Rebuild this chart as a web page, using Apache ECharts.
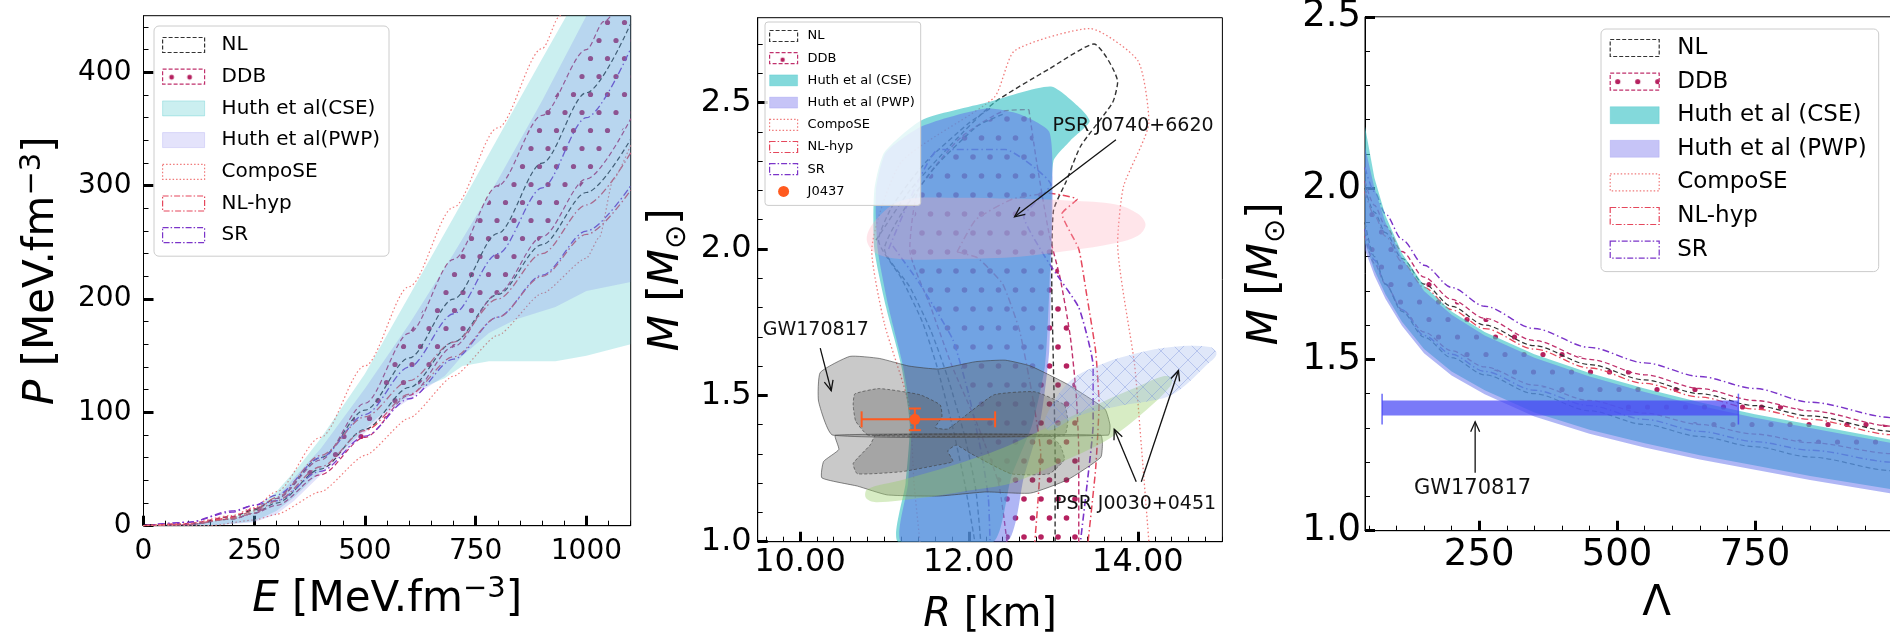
<!DOCTYPE html>
<html>
<head>
<meta charset="utf-8">
<title>EOS constraints</title>
<script src="https://cdn.jsdelivr.net/npm/echarts@6.0.0/dist/echarts.min.js"></script>
<style>
  html, body { margin: 0; padding: 0; background: #fff; }
  #chart { width: 1890px; height: 635px; }
</style>
</head>
<body>
<div id="chart"></div>
<script>
var FONT = 'DejaVu Sans';

// ---- tick labels ----
var eTicks = [0, 250, 500, 750, 1000];
var pTicks = [0, 100, 200, 300, 400];
var rTicks = [10, 12, 14];
var mTicks = [1.0, 1.5, 2.0, 2.5];
var lambdaTicks = [250, 500, 750];

var legend1Names = ['NL', 'DDB', 'Huth et al(CSE)', 'Huth et al(PWP)', 'CompoSE', 'NL-hyp', 'SR'];
var legend2Names = ['NL', 'DDB', 'Huth et al (CSE)', 'Huth et al (PWP)', 'CompoSE', 'NL-hyp', 'SR', 'J0437'];
var legend3Names = ['NL', 'DDB', 'Huth et al (CSE)', 'Huth et al (PWP)', 'CompoSE', 'NL-hyp', 'SR'];

// ---- panel 1: P(E) ----
var p1CseUpper = [[0,0],[100,1],[200,7],[250,14],[300,30],[350,52],[400,77],[500,134],[600,203],[700,272],[800,342],[900,412],[955,450],[1000,482],[1100,555]];
var p1CseLower = [[0,0],[150,0],[250,4],[300,13],[340,25],[435,61],[530,96],[625,121],[680,130],[720,141],[780,145],[930,145],[1000,150],[1100,160]];
var p1PwpUpper = [[0,0],[100,1],[200,6],[250,12],[300,25],[400,68],[500,121],[600,178],[700,240],[800,305],[900,375],[1000,450],[1100,525]];
var p1PwpLower = [[0,0],[150,0],[250,3],[300,10],[340,22],[435,58],[530,93],[625,118],[680,132],[720,150],[780,170],[840,182],[930,193],[1000,207],[1100,215]];
var p1DdbUpper = [[0,0],[100,2],[200,8],[250,15],[300,24],[400,58],[500,108],[600,170],[700,235],[800,300],[900,362],[1000,420],[1040,445],[1100,482]];
var p1DdbLower = [[0,0],[100,1],[200,6],[250,11],[300,18],[400,45],[500,78],[600,115],[700,158],[800,205],[900,255],[1000,306],[1100,359]];
var p1Nl1 = [[0,0],[100,1],[200,8],[250,14],[300,24],[400,60],[500,102],[600,148],[700,200],[800,258],[900,320],[1000,382],[1100,443]];
var p1Nl2 = [[0,0],[100,1],[200,6],[250,11],[300,20],[400,50],[500,85],[600,122],[700,162],[800,204],[900,248],[1000,294],[1100,341]];
var p1Sr1 = [[0,0],[100,3],[200,12],[250,18],[300,27],[400,60],[500,98],[600,140],[700,187],[800,240],[900,298],[1000,360],[1100,421]];
var p1Sr2 = [[0,0],[100,3],[200,13],[250,18],[300,22],[400,48],[500,79],[600,112],[700,147],[800,184],[900,221],[1000,260],[1100,300]];
var p1NlHyp1 = [[0,0],[100,1],[200,7],[250,13],[300,25],[400,62],[500,96],[600,128],[700,162],[800,200],[900,240],[1000,283],[1100,329]];
var p1NlHyp2 = [[0,0],[100,1],[200,6],[250,11],[300,22],[400,52],[500,84],[600,116],[700,149],[800,184],[900,220],[1000,257],[1100,296]];
var p1Compose1 = [[0,0],[100,2],[200,9],[250,16],[300,30],[400,78],[500,141],[600,211],[700,281],[800,351],[900,421],[941,450],[1000,492]];
var p1Compose2 = [[0,0],[150,0],[250,5],[300,10],[400,30],[500,62],[600,95],[700,132],[800,168],[900,205],[1000,236],[1030,255],[1060,305],[1100,336]];

// ---- panel 2: M(R) ----
var p2Cse = [[11.16,1.0],[11.25,1.2],[11.3,1.4],[11.2,1.6],[11.02,1.8],[10.88,2.0],[10.88,2.2],[11.0,2.33],[11.44,2.44],[12.21,2.5],[12.97,2.555],[13.32,2.48],[13.43,2.435],[13.2,2.37],[13.0,2.3],[12.98,2.1],[12.95,1.85],[12.9,1.6],[12.75,1.4],[12.5,1.22],[12.29,1.0]];
var p2Pwp = [[11.2,1.0],[11.28,1.2],[11.32,1.4],[11.22,1.6],[11.05,1.8],[10.92,2.0],[10.9,2.2],[11.02,2.33],[11.45,2.42],[12.2,2.48],[12.6,2.46],[12.95,2.4],[12.99,2.2],[12.97,1.9],[12.95,1.65],[12.85,1.42],[12.65,1.22],[12.45,1.0]];
var p2DdbLeft = [[12.45,1.0],[12.35,1.2],[12.1,1.4],[11.8,1.6],[11.55,1.8],[11.3,2.0],[11.4,2.2],[11.9,2.38],[12.4,2.47],[12.71,2.476]];
var p2DdbRight = [[12.71,2.476],[12.8,2.3],[12.95,2.05],[13.08,1.9],[13.2,1.7],[13.27,1.5],[13.3,1.3],[13.3,1.0]];
var p2Nl1 = [[10.9,2.03],[11.3,2.2],[11.8,2.36],[12.3,2.5],[12.95,2.615],[13.48,2.70],[13.76,2.57],[13.7,2.5],[13.32,2.35],[13.15,2.23],[13.0,2.13],[12.98,1.9],[13.0,1.6],[13.02,1.3],[13.02,1.0]];
var p2Nl2 = [[12.25,2.48],[12.0,2.43],[11.5,2.3],[11.1,2.15],[10.93,2.03],[11.2,1.9],[11.45,1.75],[11.62,1.6],[11.8,1.4],[11.95,1.2],[12.07,1.0]];
var p2Nl3 = [[12.4,2.46],[12.1,2.42],[11.6,2.28],[11.2,2.12],[11.0,2.0],[11.3,1.87],[11.55,1.72],[11.75,1.56],[11.95,1.36],[12.08,1.18],[12.14,1.0]];
var p2Sr1 = [[11.05,2.0],[11.3,2.17],[11.64,2.34],[12.43,2.34],[12.97,2.22],[12.65,2.11],[12.95,1.95],[13.3,1.8],[13.47,1.6],[13.47,1.4],[13.4,1.2],[13.32,1.0]];
var p2Sr2 = [[11.1,2.01],[11.42,1.88],[11.81,1.69],[12.0,1.5],[12.15,1.3],[12.23,1.15],[12.25,1.0]];
var p2NlHyp1 = [[11.86,1.99],[12.08,2.10],[12.51,2.17],[12.95,2.19],[13.28,2.17],[13.1,2.12],[13.3,2.0],[13.39,1.85],[13.5,1.65],[13.54,1.47],[13.5,1.25],[13.41,1.0]];
var p2NlHyp2 = [[11.86,1.99],[12.1,1.97],[12.4,1.88],[12.6,1.72],[12.75,1.5],[12.85,1.3],[12.82,1.15],[12.78,1.0]];
var p2Compose = [[11.42,1.0],[11.35,1.2],[11.29,1.467],[11.0,1.744],[10.85,1.993],[11.2,2.297],[12.3,2.518],[12.54,2.677],[13.43,2.753],[14.0,2.643],[14.13,2.435],[13.83,2.214],[13.76,2.02],[13.96,1.606],[14.04,1.33],[14.13,1.0]];
var gwOuterUpper = [[10.39,1.364],[10.22,1.48],[10.24,1.578],[10.59,1.633],[10.94,1.626],[11.29,1.60],[11.64,1.59],[12.08,1.615],[12.43,1.62],[12.73,1.60],[13.17,1.537],[13.61,1.453],[13.67,1.398],[13.65,1.364]];
var gwOuterLower = [[10.42,1.364],[10.46,1.315],[10.28,1.274],[10.26,1.218],[10.68,1.19],[11.03,1.16],[11.64,1.156],[12.2,1.17],[12.73,1.166],[13.17,1.212],[13.56,1.288],[13.58,1.336],[13.56,1.364]];
var gwInnerUpper = [[10.81,1.364],[10.66,1.412],[10.63,1.467],[10.65,1.505],[10.94,1.523],[11.42,1.502],[11.66,1.467],[11.68,1.426],[11.6,1.39],[11.75,1.385],[12.0,1.44],[12.3,1.502],[12.78,1.512],[13.13,1.467],[13.17,1.412],[13.13,1.364]];
var gwInnerLower = [[10.9,1.364],[10.83,1.33],[10.63,1.267],[10.68,1.232],[11.2,1.239],[11.6,1.26],[11.81,1.274],[11.75,1.31],[11.85,1.33],[12.03,1.30],[12.5,1.232],[12.95,1.232],[13.13,1.281],[13.08,1.329],[12.95,1.364]];
var j0030Green = [[10.8,1.18],[11.2,1.21],[11.8,1.26],[12.4,1.32],[13.0,1.40],[13.6,1.48],[14.0,1.53],[14.3,1.565],[14.4,1.56],[14.38,1.53],[14.1,1.45],[13.65,1.35],[13.0,1.26],[12.5,1.2],[12.0,1.175],[11.4,1.148],[10.9,1.135],[10.78,1.15]];
var j0030Blue = [[12.9,1.42],[13.2,1.55],[13.6,1.61],[14.0,1.645],[14.4,1.665],[14.85,1.665],[14.93,1.64],[14.8,1.6],[14.5,1.52],[14.3,1.49],[13.8,1.465],[13.3,1.43],[12.95,1.38]];
var j0740Pink = [[10.79,2.034],[10.9,2.1],[11.2,2.165],[11.8,2.175],[12.51,2.172],[13.2,2.165],[13.74,2.152],[14.0,2.12],[14.09,2.083],[14.0,2.045],[13.74,2.02],[13.2,1.995],[12.51,1.972],[11.8,1.966],[11.2,1.965],[10.9,1.985]];
// R, M, Rlow, Rhigh, Mlow, Mhigh
var j0437 = [[11.36, 1.418, 10.73, 12.31, 1.381, 1.455]];
var p2Arrows = [[13.74,2.373,12.54,2.11],[10.24,1.661,10.37,1.516],[13.98,1.205,13.72,1.384],[14.04,1.205,14.48,1.585]];
var p2Notes = [{ text: 'PSR J0740+6620', x: 12.99, y: 2.421 }, { text: 'GW170817', x: 9.56, y: 1.723 }, { text: 'PSR J0030+0451', x: 13.02, y: 1.129 }];

// ---- panel 3: M(Lambda) ----
var p3CseUpper = [[43,2.18],[60,2.03],[80,1.92],[110,1.81],[150,1.715],[200,1.64],[260,1.58],[350,1.515],[450,1.46],[550,1.415],[650,1.375],[750,1.34],[850,1.31],[1000,1.265],[1050,1.25]];
var p3CseLower = [[43,1.84],[60,1.76],[80,1.69],[110,1.61],[150,1.53],[200,1.465],[260,1.41],[350,1.345],[450,1.295],[550,1.255],[650,1.22],[750,1.19],[850,1.16],[1000,1.12],[1050,1.11]];
var p3PwpUpper = [[43,2.12],[60,2.0],[80,1.9],[110,1.795],[150,1.70],[200,1.63],[260,1.57],[350,1.505],[450,1.45],[550,1.405],[650,1.365],[750,1.33],[850,1.30],[1000,1.255],[1050,1.24]];
var p3PwpLower = [[43,1.82],[60,1.745],[80,1.677],[110,1.598],[150,1.518],[200,1.453],[260,1.398],[350,1.333],[450,1.283],[550,1.243],[650,1.208],[750,1.178],[850,1.148],[1000,1.108],[1050,1.098]];
var p3Sr1 = [[43,2.06],[60,1.99],[80,1.925],[110,1.85],[150,1.775],[200,1.71],[260,1.655],[350,1.59],[450,1.535],[550,1.49],[650,1.45],[750,1.415],[850,1.375],[1000,1.33],[1050,1.32]];
var p3Ddb1 = [[43,2.02],[60,1.95],[80,1.89],[110,1.815],[150,1.74],[200,1.675],[260,1.62],[350,1.555],[450,1.50],[550,1.455],[650,1.415],[750,1.38],[850,1.35],[1000,1.305],[1050,1.295]];
var p3NlHyp1 = [[43,1.99],[60,1.92],[80,1.86],[110,1.785],[150,1.71],[200,1.645],[260,1.59],[350,1.53],[450,1.475],[550,1.43],[650,1.39],[750,1.355],[850,1.325],[1000,1.28],[1050,1.27]];
var p3Nl1 = [[43,2.0],[60,1.93],[80,1.87],[110,1.795],[150,1.72],[200,1.655],[260,1.60],[350,1.54],[450,1.485],[550,1.44],[650,1.40],[750,1.365],[850,1.335],[1000,1.29],[1050,1.28]];
var p3Sr2 = [[43,1.88],[60,1.79],[80,1.72],[110,1.645],[150,1.57],[200,1.515],[260,1.465],[350,1.41],[450,1.365],[550,1.325],[650,1.29],[750,1.26],[850,1.235],[1000,1.20],[1050,1.19]];
var p3Ddb2 = [[43,1.86],[60,1.78],[80,1.72],[110,1.645],[150,1.58],[200,1.525],[260,1.478],[350,1.425],[450,1.38],[550,1.343],[650,1.31],[750,1.282],[850,1.257],[1000,1.225],[1050,1.215]];
var p3Nl2 = [[43,1.90],[60,1.80],[80,1.72],[110,1.64],[150,1.565],[200,1.505],[260,1.455],[350,1.40],[450,1.35],[550,1.31],[650,1.275],[750,1.245],[850,1.215],[1000,1.175],[1050,1.165]];
// Lambda low, Lambda high, M low, M high, cap low, cap high
var gwLambda = [[74, 720, 1.336, 1.38, 1.31, 1.40]];
var p3Arrows = [[242.7,1.169,242.7,1.318]];
var p3Notes = [{ text: 'GW170817', x: 131.7, y: 1.122 }];

// ---- styles ----
var C = { nl: '#333333', ddb: '#c0306c', compose: '#f07a7a', nlhyp: '#e5475c', sr: '#7b34c9', dot: '#b5215f', orange: '#ff5a1f' };
var DASH = [5, 3], DOT = [1.5, 2.5], DASHDOT = [7, 3, 1.5, 3];
var CSE_DARK = 'rgba(64,196,200,0.65)', PWP_DARK = 'rgba(95,110,235,0.5)';

function dotPattern(w, h, dots, r, color) {
  var c = document.createElement('canvas');
  c.width = w; c.height = h;
  var ctx = c.getContext('2d');
  ctx.fillStyle = color;
  dots.forEach(function (d) { ctx.beginPath(); ctx.arc(d[0], d[1], r, 0, Math.PI * 2); ctx.fill(); });
  return { image: c, repeat: 'repeat' };
}
function hatchPattern(s, color) {
  var c = document.createElement('canvas');
  c.width = s; c.height = s;
  var ctx = c.getContext('2d');
  ctx.strokeStyle = color; ctx.lineWidth = 1;
  ctx.beginPath(); ctx.moveTo(0, 0); ctx.lineTo(s, s); ctx.moveTo(s, 0); ctx.lineTo(0, s); ctx.stroke();
  return { image: c, repeat: 'repeat' };
}
var dots1 = dotPattern(17, 36, [[4, 4.5], [12.5, 22.5]], 2.6, C.dot);
var dots2 = dotPattern(17, 38, [[4, 5], [12.5, 24]], 2.8, C.dot);
var dots3 = dotPattern(19, 35, [[4, 4.5], [13.5, 22]], 2.6, C.dot);
var hatch = hatchPattern(18, 'rgba(120,145,220,0.4)');

function band(upper, lower) { return upper.concat(lower.slice().reverse()); }
function range(from, to, step) {
  var a = [];
  for (var v = from; v <= to + 1e-9; v += step) a.push(Math.round(v * 1000) / 1000);
  return a;
}
function minors(majors, from, to, step) {
  return range(from, to, step).filter(function (v) { return majors.indexOf(v) < 0; });
}

function poly(name, g, pts, fill, z, opt) {
  opt = opt || {};
  return {
    name: name, type: 'custom', xAxisIndex: 2 * g, yAxisIndex: 2 * g, z: z, silent: true, data: pts,
    renderItem: function (params, api) {
      if (params.dataIndex !== 0) return null;
      var cs = params.coordSys;
      return {
        type: 'group',
        clipPath: { type: 'rect', shape: { x: cs.x, y: cs.y, width: cs.width, height: cs.height } },
        children: [{
          type: 'polygon',
          shape: { points: pts.map(function (p) { return api.coord(p); }), smooth: opt.smooth || 0 },
          style: { fill: fill, stroke: opt.stroke || null, lineWidth: opt.lineWidth || 0, lineDash: opt.lineDash || null }
        }]
      };
    }
  };
}
function curve(name, g, pts, color, dash, width, smooth) {
  return {
    name: name, type: 'line', xAxisIndex: 2 * g, yAxisIndex: 2 * g, data: pts, z: 2, silent: true,
    symbol: 'none', smooth: smooth, smoothMonotone: g === 1 ? null : 'x',
    lineStyle: { color: color, width: width, type: dash }, itemStyle: { color: color }
  };
}
function arrows(g, list) {
  return {
    type: 'custom', xAxisIndex: 2 * g, yAxisIndex: 2 * g, z: 8, silent: true, data: list,
    renderItem: function (params, api) {
      var a = api.coord([api.value(0), api.value(1)]);
      var b = api.coord([api.value(2), api.value(3)]);
      var ang = Math.atan2(b[1] - a[1], b[0] - a[0]);
      var L = 11, w = 0.42;
      var st = { stroke: '#111', lineWidth: 1.3, fill: null };
      return { type: 'group', children: [
        { type: 'line', shape: { x1: a[0], y1: a[1], x2: b[0], y2: b[1] }, style: st },
        { type: 'polyline', shape: { points: [
          [b[0] - L * Math.cos(ang - w), b[1] - L * Math.sin(ang - w)], b,
          [b[0] - L * Math.cos(ang + w), b[1] - L * Math.sin(ang + w)]] }, style: st }
      ] };
    }
  };
}
function notes(g, list, size) {
  return {
    type: 'custom', xAxisIndex: 2 * g, yAxisIndex: 2 * g, z: 8, silent: true,
    data: list.map(function (n) { return [n.x, n.y]; }),
    renderItem: function (params, api) {
      var p = api.coord([api.value(0), api.value(1)]);
      return { type: 'text', x: p[0], y: p[1], style: {
        text: list[params.dataIndex].text, fill: '#111', fontSize: size, fontFamily: FONT,
        align: 'left', verticalAlign: 'middle' } };
    }
  };
}

function nameStyle(fs) {
  return {
    color: '#000', fontSize: fs, fontFamily: FONT, lineHeight: 50,
    rich: {
      i: { fontStyle: 'italic', fontSize: fs, fontFamily: FONT, lineHeight: 50, color: '#000' },
      s: { fontSize: Math.round(fs * 0.7), fontFamily: FONT, lineHeight: 22, verticalAlign: 'top', color: '#000' },
      o: { fontSize: Math.round(fs * 0.7), fontFamily: FONT, lineHeight: 34, verticalAlign: 'bottom', color: '#000' }
    }
  };
}
function axisPair(dim, g, min, max, majors, minorVals, fmt, fs, margin, name, nameGap, nameSize) {
  var pos = dim === 'x' ? 'bottom' : 'left';
  return [{
    type: 'value', gridIndex: g, position: pos, min: min, max: max,
    axisLine: { show: true, onZero: false, lineStyle: { color: '#000', width: 1 } },
    axisTick: { show: true, inside: true, length: 10, customValues: majors, lineStyle: { color: '#000', width: 3 } },
    axisLabel: { show: true, customValues: majors, formatter: fmt, color: '#000', fontSize: fs, fontFamily: FONT, margin: margin },
    splitLine: { show: false },
    name: name, nameLocation: 'middle', nameGap: nameGap, nameTextStyle: nameStyle(nameSize)
  }, {
    type: 'value', gridIndex: g, position: pos, min: min, max: max,
    axisLine: { show: false }, axisLabel: { show: false }, splitLine: { show: false },
    axisTick: { show: true, inside: true, length: 5, customValues: minorVals, lineStyle: { color: '#000', width: 1 } }
  }];
}

var legendFill = {
  p1: { cse: 'rgba(64,196,200,0.27)', pwp: 'rgba(120,115,235,0.2)', dots: dotPattern(18, 15, [[9, 8]], 2.4, C.dot) },
  p2: { cse: CSE_DARK, pwp: 'rgba(120,115,235,0.42)', dots: dotPattern(28, 11, [[13, 7]], 2.2, C.dot) },
  p3: { cse: CSE_DARK, pwp: 'rgba(120,115,235,0.42)', dots: dotPattern(20, 17, [[7.5, 8.5]], 2.6, C.dot) }
};
function legendItem(n, k) {
  var f = legendFill[k], bw = 1.2, none = 'rgba(0,0,0,0)';
  if (n === 'NL') return { name: n, icon: 'rect', itemStyle: { color: none, borderColor: C.nl, borderWidth: bw, borderType: [4, 2] } };
  if (n === 'DDB') return { name: n, icon: 'rect', itemStyle: { color: f.dots, borderColor: C.ddb, borderWidth: bw, borderType: [4, 2] } };
  if (n.indexOf('CSE') >= 0) return { name: n, icon: 'rect', itemStyle: { color: f.cse, borderColor: 'rgba(64,196,200,0.3)', borderWidth: 1, borderType: 'solid' } };
  if (n.indexOf('PWP') >= 0) return { name: n, icon: 'rect', itemStyle: { color: f.pwp, borderColor: 'rgba(120,115,235,0.2)', borderWidth: 1, borderType: 'solid' } };
  if (n === 'CompoSE') return { name: n, icon: 'rect', itemStyle: { color: none, borderColor: C.compose, borderWidth: bw, borderType: [1.5, 2] } };
  if (n === 'NL-hyp') return { name: n, icon: 'rect', itemStyle: { color: none, borderColor: C.nlhyp, borderWidth: bw, borderType: [6, 2, 1.5, 2] } };
  if (n === 'SR') return { name: n, icon: 'rect', itemStyle: { color: none, borderColor: C.sr, borderWidth: bw, borderType: [6, 2, 1.5, 2] } };
  return { name: n, icon: 'circle', itemStyle: { color: C.orange, borderColor: C.orange, borderWidth: 0, borderType: 'solid' } };
}
function legendCfg(names, k, o) {
  return {
    orient: 'vertical', left: o.left, top: o.top, itemWidth: o.w, itemHeight: o.h, itemGap: o.gap, padding: o.pad,
    backgroundColor: 'rgba(255,255,255,0.8)', borderColor: '#cccccc', borderWidth: 1, borderRadius: o.r, z: 20,
    selectedMode: false,
    textStyle: { fontSize: o.fs, fontFamily: FONT, color: '#000', lineHeight: o.lh, padding: [0, 0, 0, o.tp] },
    data: names.map(function (n) { return legendItem(n, k); })
  };
}

// ---- series ----
var series = [];
// panel 1
series.push(poly('DDB', 0, band(p1DdbUpper, p1DdbLower), dots1, 1));
series.push(curve('NL', 0, p1Nl1, C.nl, DASH, 1.2, 0.3));
series.push(curve('NL', 0, p1Nl2, C.nl, DASH, 1.2, 0.3));
series.push(curve('DDB', 0, p1DdbUpper, C.ddb, DASH, 1.2, 0.3));
series.push(curve('DDB', 0, p1DdbLower, C.ddb, DASH, 1.2, 0.3));
series.push(curve('SR', 0, p1Sr1, C.sr, DASHDOT, 1.3, 0.3));
series.push(curve('SR', 0, p1Sr2, C.sr, DASHDOT, 1.3, 0.3));
series.push(curve('NL-hyp', 0, p1NlHyp1, C.nlhyp, DASHDOT, 1.3, 0.3));
series.push(curve('NL-hyp', 0, p1NlHyp2, C.nlhyp, DASHDOT, 1.3, 0.3));
series.push(curve('CompoSE', 0, p1Compose1, C.compose, DOT, 1.2, 0.3));
series.push(curve('CompoSE', 0, p1Compose2, C.compose, DOT, 1.2, 0.2));
series.push(poly('Huth et al(CSE)', 0, band(p1CseUpper, p1CseLower), 'rgba(64,196,200,0.27)', 3));
series.push(poly('Huth et al(PWP)', 0, band(p1PwpUpper, p1PwpLower), 'rgba(110,115,235,0.2)', 3));

// panel 2
series.push(poly('DDB', 1, p2DdbLeft.concat(p2DdbRight), dots2, 1));
series.push(curve('DDB', 1, p2DdbLeft, C.ddb, DASH, 1.4, 0.2));
series.push(curve('DDB', 1, p2DdbRight, C.ddb, DASH, 1.4, 0.2));
series.push(curve('NL', 1, p2Nl1, C.nl, DASH, 1.4, 0.2));
series.push(curve('NL', 1, p2Nl2, C.nl, DASH, 1.4, 0.2));
series.push(curve('NL', 1, p2Nl3, C.nl, DASH, 1.4, 0.2));
series.push(curve('SR', 1, p2Sr1, C.sr, DASHDOT, 1.6, 0.15));
series.push(curve('SR', 1, p2Sr2, C.sr, DASHDOT, 1.6, 0.15));
series.push(curve('NL-hyp', 1, p2NlHyp1, C.nlhyp, DASHDOT, 1.5, 0.15));
series.push(curve('NL-hyp', 1, p2NlHyp2, C.nlhyp, DASHDOT, 1.5, 0.15));
series.push(curve('CompoSE', 1, p2Compose, C.compose, DOT, 1.3, 0.2));
series.push(poly('Huth et al (CSE)', 1, p2Cse, CSE_DARK, 3, { smooth: 0.2 }));
series.push(poly('Huth et al (PWP)', 1, p2Pwp, PWP_DARK, 3, { smooth: 0.2 }));
series.push(poly('GW170817 90', 1, gwOuterUpper, 'rgba(90,90,90,0.33)', 4, { smooth: 0.15, stroke: 'rgba(60,60,60,0.6)', lineWidth: 1 }));
series.push(poly('GW170817 90', 1, gwOuterLower, 'rgba(90,90,90,0.33)', 4, { smooth: 0.15, stroke: 'rgba(60,60,60,0.6)', lineWidth: 1 }));
series.push(poly('GW170817 50', 1, gwInnerUpper, 'rgba(90,90,90,0.33)', 4, { smooth: 0.15, stroke: 'rgba(60,60,60,0.6)', lineWidth: 1, lineDash: [3, 2] }));
series.push(poly('GW170817 50', 1, gwInnerLower, 'rgba(90,90,90,0.33)', 4, { smooth: 0.15, stroke: 'rgba(60,60,60,0.6)', lineWidth: 1, lineDash: [3, 2] }));
series.push(poly('PSR J0030 A', 1, j0030Green, 'rgba(150,205,100,0.38)', 5, { smooth: 0.35 }));
series.push(poly('PSR J0030 B', 1, j0030Blue, 'rgba(150,175,235,0.3)', 5, { smooth: 0.35 }));
series.push(poly('PSR J0030 B', 1, j0030Blue, hatch, 5, { smooth: 0.35 }));
series.push(poly('PSR J0740', 1, j0740Pink, 'rgba(255,170,185,0.3)', 5, { smooth: 0.35 }));
series.push({
  name: 'J0437', type: 'custom', xAxisIndex: 2, yAxisIndex: 2, z: 7, silent: true, data: j0437,
  renderItem: function (params, api) {
    var c = api.coord([api.value(0), api.value(1)]);
    var xl = api.coord([api.value(2), api.value(1)]);
    var xh = api.coord([api.value(3), api.value(1)]);
    var yl = api.coord([api.value(0), api.value(4)]);
    var yh = api.coord([api.value(0), api.value(5)]);
    var st = { stroke: C.orange, lineWidth: 2 };
    return { type: 'group', children: [
      { type: 'line', shape: { x1: xl[0], y1: xl[1], x2: xh[0], y2: xh[1] }, style: st },
      { type: 'line', shape: { x1: yl[0], y1: yl[1], x2: yh[0], y2: yh[1] }, style: st },
      { type: 'line', shape: { x1: xl[0], y1: xl[1] - 8, x2: xl[0], y2: xl[1] + 8 }, style: st },
      { type: 'line', shape: { x1: xh[0], y1: xh[1] - 8, x2: xh[0], y2: xh[1] + 8 }, style: st },
      { type: 'line', shape: { x1: yl[0] - 6, y1: yl[1], x2: yl[0] + 6, y2: yl[1] }, style: st },
      { type: 'line', shape: { x1: yh[0] - 6, y1: yh[1], x2: yh[0] + 6, y2: yh[1] }, style: st },
      { type: 'circle', shape: { cx: c[0], cy: c[1], r: 5.5 }, style: { fill: C.orange } }
    ] };
  }
});
series.push(arrows(1, p2Arrows));
series.push(notes(1, p2Notes, 19));

// panel 3
series.push(poly('DDB', 2, band(p3Ddb1, p3Ddb2), dots3, 1));
series.push(curve('SR', 2, p3Sr1, C.sr, DASHDOT, 1.4, 0.3));
series.push(curve('SR', 2, p3Sr2, C.sr, DASHDOT, 1.4, 0.3));
series.push(curve('DDB', 2, p3Ddb1, C.ddb, DASH, 1.3, 0.3));
series.push(curve('DDB', 2, p3Ddb2, C.ddb, DASH, 1.3, 0.3));
series.push(curve('NL-hyp', 2, p3NlHyp1, C.nlhyp, DASHDOT, 1.3, 0.3));
series.push(curve('NL', 2, p3Nl1, C.nl, DASH, 1.2, 0.3));
series.push(curve('NL', 2, p3Nl2, C.nl, DASH, 1.2, 0.3));
series.push(poly('Huth et al (CSE)', 2, band(p3CseUpper, p3CseLower), CSE_DARK, 3));
series.push(poly('Huth et al (PWP)', 2, band(p3PwpUpper, p3PwpLower), PWP_DARK, 3));
series.push({
  name: 'GW170817 bar', type: 'custom', xAxisIndex: 4, yAxisIndex: 4, z: 6, silent: true, data: gwLambda,
  renderItem: function (params, api) {
    var tl = api.coord([api.value(0), api.value(3)]);
    var br = api.coord([api.value(1), api.value(2)]);
    var c0 = api.coord([api.value(0), api.value(4)]), c1 = api.coord([api.value(0), api.value(5)]);
    var d0 = api.coord([api.value(1), api.value(4)]), d1 = api.coord([api.value(1), api.value(5)]);
    var st = { stroke: 'rgba(70,70,245,0.8)', lineWidth: 1.5 };
    return { type: 'group', children: [
      { type: 'rect', shape: { x: tl[0], y: tl[1], width: br[0] - tl[0], height: br[1] - tl[1] }, style: { fill: 'rgba(70,70,245,0.72)' } },
      { type: 'line', shape: { x1: c0[0], y1: c0[1], x2: c1[0], y2: c1[1] }, style: st },
      { type: 'line', shape: { x1: d0[0], y1: d0[1], x2: d1[0], y2: d1[1] }, style: st }
    ] };
  }
});
series.push(arrows(2, p3Arrows));
series.push(notes(2, p3Notes, 21));

// ---- axes ----
var xAxes = []
  .concat(axisPair('x', 0, 0, 1100, eTicks, minors(eTicks, 50, 1100, 50), function (v) { return String(v); }, 28, 12, '{i|E} [MeV.fm{s|−3}]', 49, 42))
  .concat(axisPair('x', 1, 9.5, 15.0, rTicks, minors(rTicks, 9.6, 15.0, 0.2), function (v) { return v.toFixed(2); }, 32, 5, '{i|R} [km]', 49, 40))
  .concat(axisPair('x', 2, 43, 1100, lambdaTicks, minors(lambdaTicks, 50, 1100, 50), function (v) { return String(v); }, 37, 6, 'Λ', 42, 42));
var yAxes = []
  .concat(axisPair('y', 0, 0, 450, pTicks, minors(pTicks, 20, 440, 20), function (v) { return String(v); }, 28, 12, '{i|P} [MeV.fm{s|−3}]', 76, 42))
  .concat(axisPair('y', 1, 1.0, 2.79, mTicks, minors(mTicks, 1.1, 2.7, 0.1), function (v) { return v.toFixed(1); }, 32, 6, '{i|M} [{i|M}{o|⊙}]', 66, 42))
  .concat(axisPair('y', 2, 1.0, 2.5, mTicks, minors(mTicks, 1.1, 2.4, 0.1), function (v) { return v.toFixed(1); }, 37, 4, '{i|M} [{i|M}{o|⊙}]', 74, 42));

var gridBase = { show: true, borderColor: '#000', borderWidth: 1, backgroundColor: 'rgba(0,0,0,0)', containLabel: false, outerBoundsMode: 'none' };
var chart = echarts.init(document.getElementById('chart'), null, { renderer: 'canvas' });
chart.setOption({
  animation: false,
  backgroundColor: '#ffffff',
  textStyle: { fontFamily: FONT },
  grid: [
    Object.assign({ left: 143.5, top: 15.7, width: 487.2, height: 510 }, gridBase),
    Object.assign({ left: 757.7, top: 17.7, width: 464.7, height: 524 }, gridBase),
    Object.assign({ left: 1365, top: 16.8, width: 583, height: 513.9 }, gridBase)
  ],
  xAxis: xAxes,
  yAxis: yAxes,
  legend: [
    legendCfg(legend1Names, 'p1', { left: 154, top: 26, w: 42, h: 15, gap: 11.7, pad: [9, 9, 11, 8], r: 5, fs: 20, lh: 20, tp: 12 }),
    legendCfg(legend2Names, 'p2', { left: 765, top: 22, w: 28, h: 11, gap: 8.2, pad: [7, 6, 7, 4], r: 3, fs: 13, lh: 14, tp: 5 }),
    legendCfg(legend3Names, 'p3', { left: 1601, top: 29, w: 49, h: 17, gap: 9.6, pad: [7, 12, 10, 8.6], r: 5, fs: 23, lh: 24, tp: 13 })
  ],
  series: series
});
window.addEventListener('resize', function () { chart.resize(); });
</script>
</body>
</html>
